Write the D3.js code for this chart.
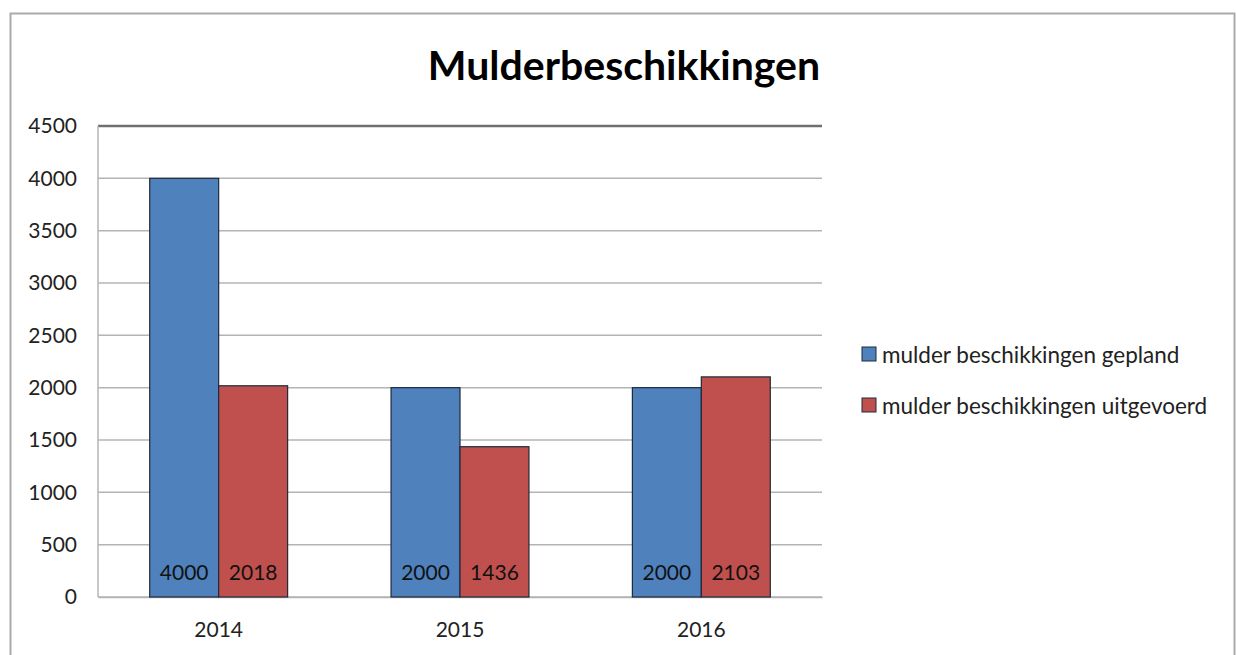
<!DOCTYPE html>
<html>
<head>
<meta charset="utf-8">
<script src="https://cdn.jsdelivr.net/npm/d3@7"></script>
<style>
  body { margin: 0; background: #fff; }
  svg { display: block; font-family: Lato, "Open Sans", sans-serif; }
</style>
</head>
<body>
<div class="chart-container"></div>
<script>
const years = ["2014", "2015", "2016"];
const seriesNames = ["mulder beschikkingen gepland", "mulder beschikkingen uitgevoerd"];
const gepland = [4000, 2000, 2000];
const uitgevoerd = [2018, 1436, 2103];
const yTicks = [0, 500, 1000, 1500, 2000, 2500, 3000, 3500, 4000, 4500];
const colors = ["#4f81bd", "#c0504d"];

const width = 1236, height = 655;
const plot = {left: 98, right: 822, top: 126, bottom: 597};

const svg = d3.select(".chart-container")
  .append("svg")
  .attr("width", width)
  .attr("height", height);

// outer chart border
svg.append("rect")
  .attr("x", 10.5).attr("y", 13.5)
  .attr("width", 1224).attr("height", 700)
  .attr("fill", "none")
  .attr("stroke", "#aaaaaa")
  .attr("stroke-width", 2);

const xScale = d3.scaleBand()
  .domain(years)
  .range([plot.left, plot.right]);

//gap width 150% like the spreadsheet default
const subScale = d3.scaleBand()
  .domain(seriesNames)
  .range([0, xScale.bandwidth()])
  .paddingInner(0)
  .paddingOuter(0.75);

const yScale = d3.scaleLinear()
  .domain([0, 4500])
  .range([plot.bottom, plot.top]);

// gridlines
svg.append("g")
  .selectAll("line")
  .data(yTicks)
  .join("line")
  .attr("x1", plot.left).attr("x2", plot.right)
  .attr("y1", d => yScale(d)).attr("y2", d => yScale(d))
  .attr("stroke", d => d === 4500 ? "#6f6f6f" : "#b4b4b4")
  .attr("stroke-width", d => d === 4500 ? 2.5 : 1.5);

// left axis line
svg.append("line")
  .attr("x1", plot.left).attr("x2", plot.left)
  .attr("y1", plot.top).attr("y2", plot.bottom)
  .attr("stroke", "#b4b4b4")
  .attr("stroke-width", 1.5);

const yAxis = d3.axisLeft(yScale)
  .tickValues(yTicks)
  .tickFormat(d3.format("d"))
  .tickSize(0)
  .tickPadding(21);
svg.append("g")
  .attr("transform", "translate(" + plot.left + ",0)")
  .call(yAxis)
  .call(g => g.select(".domain").remove())
  .selectAll("text")
  .attr("font-size", 21)
  .attr("font-family", "Lato, sans-serif")
  .attr("fill", "#222");

const xAxis = d3.axisBottom(xScale).tickSize(0).tickPadding(25);
svg.append("g")
  .attr("transform", "translate(0," + plot.bottom + ")")
  .call(xAxis)
  .call(g => g.select(".domain").attr("stroke", "#b4b4b4").attr("stroke-width", 1.5))
  .selectAll("text")
  .attr("font-size", 21)
  .attr("font-family", "Lato, sans-serif")
  .attr("fill", "#222");

const rows = years.map((y, i) => ({
  year: y,
  values: [
    {name: seriesNames[0], value: gepland[i], color: colors[0]},
    {name: seriesNames[1], value: uitgevoerd[i], color: colors[1]}
  ]
}));

const groups = svg.append("g")
  .selectAll("g")
  .data(rows)
  .join("g")
  .attr("transform", d => "translate(" + xScale(d.year) + ",0)");

groups.selectAll("rect")
  .data(d => d.values)
  .join("rect")
  .attr("x", d => subScale(d.name))
  .attr("y", d => yScale(d.value))
  .attr("width", subScale.bandwidth())
  .attr("height", d => plot.bottom - yScale(d.value))
  .attr("fill", d => d.color)
  .attr("stroke", "#1e2a3a")
  .attr("stroke-width", 1.2);

groups.selectAll("text")
  .data(d => d.values)
  .join("text")
  .attr("x", d => subScale(d.name) + subScale.bandwidth() / 2)
  .attr("y", plot.bottom - 17)
  .attr("text-anchor", "middle")
  .attr("font-size", 21)
  .attr("fill", "#111")
  .text(d => d.value);

// title
svg.append("text")
  .attr("x", 624)
  .attr("y", 80)
  .attr("text-anchor", "middle")
  .attr("font-size", 41)
  .attr("font-weight", "bold")
  .attr("fill", "#000")
  .text("Mulderbeschikkingen");

// legend
const legend = svg.append("g")
  .attr("transform", "translate(862,347)");

const items = legend.selectAll("g")
  .data(seriesNames)
  .join("g")
  .attr("transform", (d, i) => "translate(0," + (i * 51) + ")");

items.append("rect")
  .attr("width", 14).attr("height", 14)
  .attr("fill", (d, i) => colors[i])
  .attr("stroke", "#1e2a3a")
  .attr("stroke-width", 1);

items.append("text")
  .attr("x", 20)
  .attr("y", 16)
  .attr("font-size", 22.5)
  .attr("fill", "#222")
  .text(d => d);
</script>
</body>
</html>
